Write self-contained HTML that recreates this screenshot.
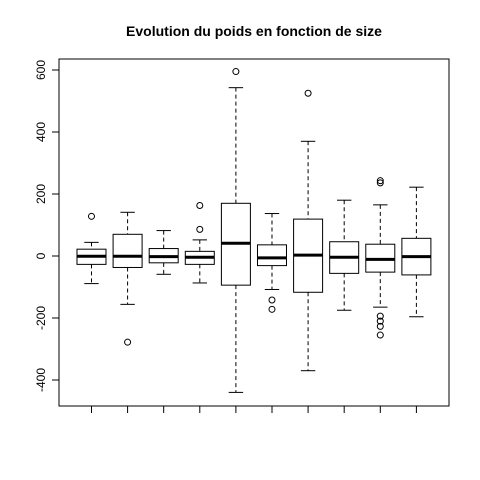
<!DOCTYPE html>
<html><head><meta charset="utf-8"><style>body{margin:0;background:#fff}svg{display:block}</style></head>
<body>
<svg id="c" width="480" height="480" xmlns="http://www.w3.org/2000/svg" font-family="Liberation Sans, sans-serif">
<text x="254" y="36" text-anchor="middle" font-size="14" font-weight="bold">Evolution du poids en fonction de size</text>
<rect x="59" y="59" width="390" height="347" fill="none" stroke="#000"/>
<g id="g"></g>
</svg>
<script>
const categories=[1,2,3,4,5,6,7,8,9,10];
const whiskerLow=[-89,-156,-59,-87,-440,-108,-370,-175,-165,-196];
const q1=[-27,-37,-22,-27,-94,-31,-117,-56,-52,-61];
const medians=[-1,-1,-2,-4,41,-6,3,-4,-11,-2];
const q3=[22,70,24,15,170,36,119,46,38,57];
const whiskerHigh=[44,141,82,52,543,137,370,180,165,222];
const outliers=[[128],[-278],[],[163,86],[595],[-142,-172],[525],[],[243,236,-194,-210,-227,-255],[]];
const yTicks=[-400,-200,0,200,400,600];
const NS='http://www.w3.org/2000/svg';
const g=document.getElementById('g');
const y=v=>256-v*0.31;
const x=i=>59+(i-0.1)*36.1;
function mk(t,a,p){const e=document.createElementNS(NS,t);for(const k in a)e.setAttribute(k,a[k]);(p||g).appendChild(e);return e;}
yTicks.forEach(t=>{
 const l=mk('line',{x1:52,x2:59,y1:y(t),y2:y(t),stroke:'#000'});
 
 
 const tx=mk('text',{x:0,y:0,'font-size':12,'text-anchor':'middle',transform:`translate(45,${y(t)}) rotate(-90)`});
 tx.textContent=t;
 
 
});
mk('line',{x1:x(1),x2:x(10),y1:406,y2:406,stroke:'#000'});
categories.forEach((c,i)=>{
 const cx=x(c),hw=14.5,cw=7.2;
 const tk=mk('line',{x1:cx,x2:cx,y1:406,y2:413,stroke:'#000'});
 
 
 const bg=mk('g',{});
 
 
 mk('line',{x1:cx,x2:cx,y1:y(whiskerHigh[i]),y2:y(q3[i]),stroke:'#000','stroke-dasharray':'4,3'},bg);
 mk('line',{x1:cx,x2:cx,y1:y(q1[i]),y2:y(whiskerLow[i]),stroke:'#000','stroke-dasharray':'4,3'},bg);
 mk('line',{x1:cx-cw,x2:cx+cw,y1:y(whiskerHigh[i]),y2:y(whiskerHigh[i]),stroke:'#000'},bg);
 mk('line',{x1:cx-cw,x2:cx+cw,y1:y(whiskerLow[i]),y2:y(whiskerLow[i]),stroke:'#000'},bg);
 mk('rect',{x:cx-hw,y:y(q3[i]),width:2*hw,height:y(q1[i])-y(q3[i]),fill:'#fff',stroke:'#000'},bg);
 mk('line',{x1:cx-hw,x2:cx+hw,y1:y(medians[i]),y2:y(medians[i]),stroke:'#000','stroke-width':3},bg);
 outliers[i].forEach(o=>{
  const p=mk('circle',{cx:cx,cy:y(o),r:3,fill:'none',stroke:'#000'},bg);
  
  
 });
});
</script>
</body></html>
